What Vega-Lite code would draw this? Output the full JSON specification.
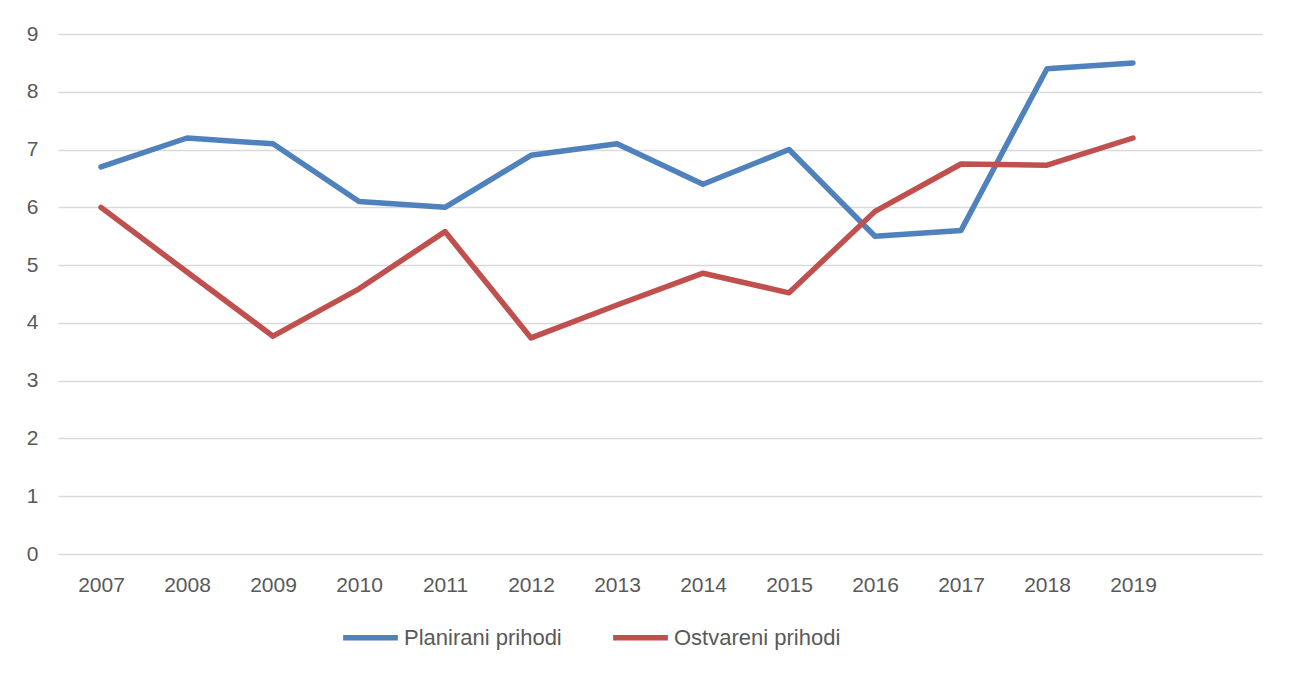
{
  "$schema": "https://vega.github.io/schema/vega-lite/v6.json",
  "width": 1204,
  "height": 520,
  "autosize": {"type": "none"},
  "padding": {"left": 58, "top": 34, "right": 33, "bottom": 119},
  "background": "white",
  "config": {
    "view": {"stroke": null},
    "font": "Liberation Sans",
    "axis": {"labelFont": "Liberation Sans", "labelColor": "#595959", "labelFontSize": 21}
  },
  "data": {
    "values": [
      {"year": "2007", "series": "Planirani prihodi", "value": 6.7},
      {"year": "2008", "series": "Planirani prihodi", "value": 7.2},
      {"year": "2009", "series": "Planirani prihodi", "value": 7.1},
      {"year": "2010", "series": "Planirani prihodi", "value": 6.1},
      {"year": "2011", "series": "Planirani prihodi", "value": 6.0},
      {"year": "2012", "series": "Planirani prihodi", "value": 6.9},
      {"year": "2013", "series": "Planirani prihodi", "value": 7.1},
      {"year": "2014", "series": "Planirani prihodi", "value": 6.4},
      {"year": "2015", "series": "Planirani prihodi", "value": 7.0},
      {"year": "2016", "series": "Planirani prihodi", "value": 5.5},
      {"year": "2017", "series": "Planirani prihodi", "value": 5.6},
      {"year": "2018", "series": "Planirani prihodi", "value": 8.4},
      {"year": "2019", "series": "Planirani prihodi", "value": 8.5},
      {"year": "2007", "series": "Ostvareni prihodi", "value": 6.0},
      {"year": "2008", "series": "Ostvareni prihodi", "value": 4.88},
      {"year": "2009", "series": "Ostvareni prihodi", "value": 3.77},
      {"year": "2010", "series": "Ostvareni prihodi", "value": 4.59},
      {"year": "2011", "series": "Ostvareni prihodi", "value": 5.58},
      {"year": "2012", "series": "Ostvareni prihodi", "value": 3.74},
      {"year": "2013", "series": "Ostvareni prihodi", "value": 4.31},
      {"year": "2014", "series": "Ostvareni prihodi", "value": 4.86},
      {"year": "2015", "series": "Ostvareni prihodi", "value": 4.52},
      {"year": "2016", "series": "Ostvareni prihodi", "value": 5.93},
      {"year": "2017", "series": "Ostvareni prihodi", "value": 6.75},
      {"year": "2018", "series": "Ostvareni prihodi", "value": 6.73},
      {"year": "2019", "series": "Ostvareni prihodi", "value": 7.2}
    ]
  },
  "mark": {"type": "line", "strokeWidth": 5.5, "strokeCap": "round", "strokeJoin": "round"},
  "encoding": {
    "x": {
      "field": "year",
      "type": "ordinal",
      "scale": {"type": "point", "padding": 0.5, "domain": ["2007","2008","2009","2010","2011","2012","2013","2014","2015","2016","2017","2018","2019"," "]},
      "axis": {"title": null, "labelAngle": 0, "ticks": false, "domain": false, "grid": false, "labelPadding": 31, "labelBaseline": "middle"}
    },
    "y": {
      "field": "value",
      "type": "quantitative",
      "scale": {"domain": [0, 9], "nice": false},
      "axis": {"title": null, "values": [0,1,2,3,4,5,6,7,8,9], "ticks": false, "domain": false, "grid": true, "gridColor": "#D9D9D9", "gridWidth": 1.5, "labelPadding": 20}
    },
    "color": {
      "field": "series",
      "type": "nominal",
      "scale": {"domain": ["Planirani prihodi", "Ostvareni prihodi"], "range": ["#4F81BD", "#C0504D"]},
      "legend": {
        "title": null,
        "orient": "none",
        "legendX": 282,
        "legendY": 573,
        "direction": "horizontal",
        "symbolType": "stroke",
        "symbolSize": 3000,
        "symbolStrokeWidth": 5.5,
        "labelFontSize": 22,
        "labelColor": "#595959",
        "labelFont": "Liberation Sans",
        "labelOffset": 3,
        "labelLimit": 400,
        "columnPadding": 40
      }
    }
  }
}
